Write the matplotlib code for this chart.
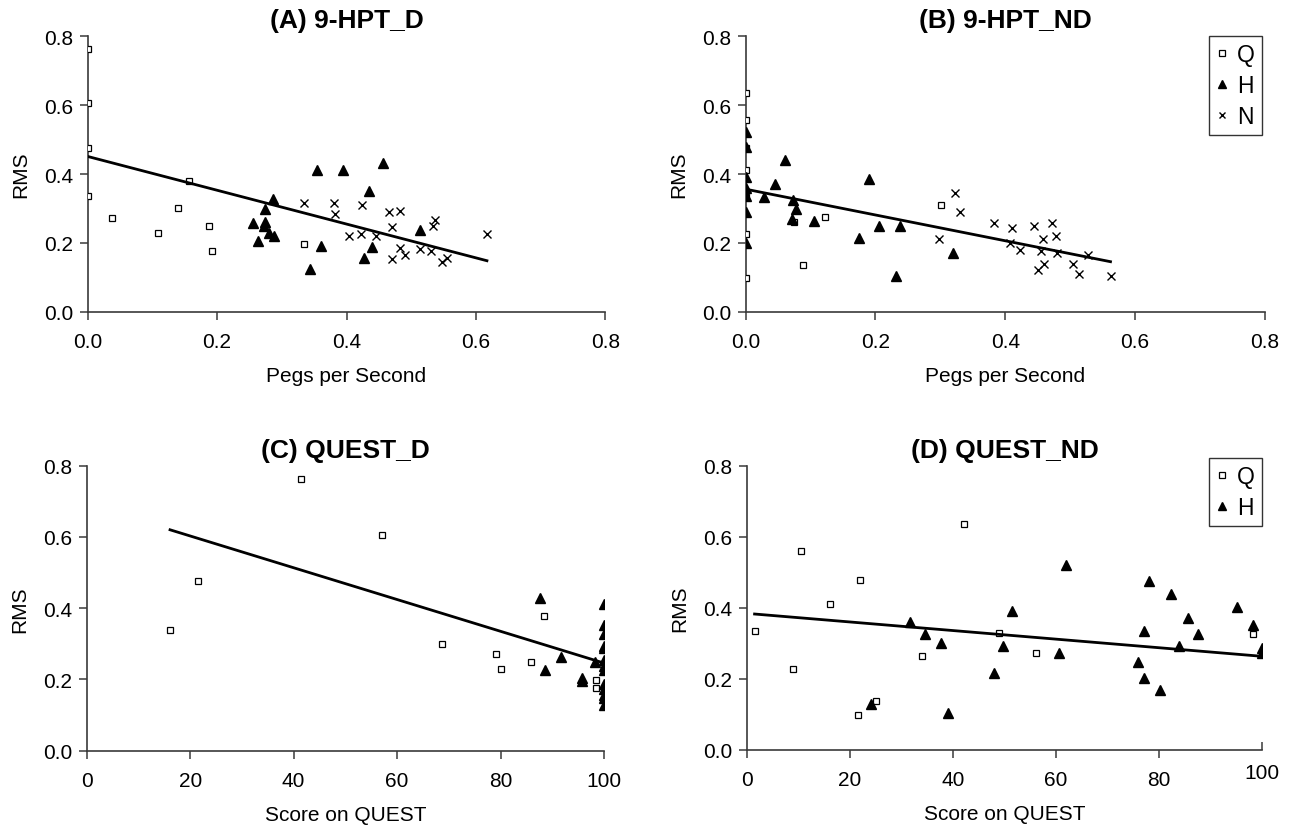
import numpy as np
import matplotlib
matplotlib.use('Agg')
import matplotlib.pyplot as plt
import matplotlib.lines as mlines
import matplotlib.transforms as mtransforms

plt.rcParams['font.family'] = ['Liberation Sans', 'DejaVu Sans']

# (A) 9-HPT_D : pegs per second vs RMS
a_q_x = [0, 0, 0, 0, 0.037, 0.108, 0.139, 0.157, 0.188, 0.192, 0.335]
a_q_y = [0.764, 0.605, 0.476, 0.337, 0.272, 0.228, 0.301, 0.379, 0.250, 0.175, 0.198]
a_h_x = [0.286, 0.274, 0.256, 0.274, 0.272, 0.263, 0.281, 0.288, 0.354, 0.394, 0.457,
         0.434, 0.344, 0.361, 0.427, 0.439, 0.514]
a_h_y = [0.327, 0.298, 0.258, 0.262, 0.250, 0.205, 0.229, 0.221, 0.413, 0.413, 0.432,
         0.350, 0.124, 0.192, 0.157, 0.189, 0.238]
a_n_x = [0.334, 0.380, 0.382, 0.424, 0.465, 0.482, 0.471, 0.404, 0.422, 0.445, 0.470,
         0.482, 0.490, 0.514, 0.531, 0.533, 0.536, 0.556, 0.547, 0.617]
a_n_y = [0.316, 0.316, 0.284, 0.310, 0.291, 0.293, 0.245, 0.219, 0.226, 0.221, 0.153,
         0.185, 0.166, 0.183, 0.177, 0.248, 0.267, 0.157, 0.145, 0.225]
a_fit = (0.451, -0.491)

# (B) 9-HPT_ND
b_q_x = [0, 0, 0, 0, 0, 0, 0, 0.074, 0.089, 0.122, 0.301]
b_q_y = [0.634, 0.558, 0.476, 0.413, 0.334, 0.226, 0.098, 0.262, 0.137, 0.274, 0.310]
b_h_x = [0, 0, 0, 0, 0, 0, 0, 0.029, 0.061, 0.046, 0.073, 0.077, 0.071, 0.106, 0.190,
         0.174, 0.206, 0.238, 0.232, 0.320]
b_h_y = [0.523, 0.477, 0.390, 0.358, 0.335, 0.291, 0.201, 0.334, 0.441, 0.370, 0.324,
         0.298, 0.269, 0.263, 0.385, 0.215, 0.248, 0.250, 0.105, 0.170]
b_n_x = [0.322, 0.330, 0.298, 0.383, 0.410, 0.444, 0.472, 0.478, 0.458, 0.407, 0.422,
         0.455, 0.480, 0.460, 0.451, 0.505, 0.513, 0.528, 0.562]
b_n_y = [0.344, 0.289, 0.211, 0.258, 0.244, 0.250, 0.258, 0.221, 0.211, 0.199, 0.180,
         0.177, 0.170, 0.140, 0.122, 0.138, 0.109, 0.165, 0.103]
b_fit = (0.356, -0.375)

# (C) QUEST_D : score on QUEST vs RMS
c_q_x = [16.1, 21.6, 41.5, 57.1, 68.6, 79.2, 80.0, 85.8, 88.3, 98.4, 98.4]
c_q_y = [0.339, 0.477, 0.763, 0.606, 0.301, 0.272, 0.230, 0.250, 0.378, 0.198, 0.176]
c_h_x = [87.6, 91.6, 88.5, 95.7, 95.7, 98.3, 100, 100, 100, 100, 100, 100, 100, 100,
         100, 100, 100, 100, 100]
c_h_y = [0.430, 0.264, 0.226, 0.204, 0.197, 0.250, 0.411, 0.353, 0.327, 0.295, 0.288,
         0.256, 0.239, 0.228, 0.187, 0.174, 0.157, 0.148, 0.127]
c_fit = (0.692, -0.00446)

# (D) QUEST_ND
d_q_x = [1.5, 8.9, 10.6, 16.1, 21.5, 21.9, 25.1, 33.9, 42.2, 48.9, 56.1, 98.3]
d_q_y = [0.334, 0.228, 0.559, 0.411, 0.099, 0.479, 0.138, 0.263, 0.637, 0.328, 0.273, 0.327]
d_h_x = [24.1, 31.6, 34.5, 37.7, 39.1, 47.9, 49.7, 51.5, 60.5, 62.0, 75.9, 77.0, 77.1,
         78.1, 80.2, 82.3, 83.9, 85.7, 87.5, 95.1, 98.3, 100, 100]
d_h_y = [0.129, 0.361, 0.326, 0.300, 0.104, 0.216, 0.291, 0.390, 0.271, 0.521, 0.246,
         0.203, 0.335, 0.476, 0.169, 0.438, 0.291, 0.370, 0.326, 0.403, 0.352, 0.286, 0.273]
d_fit = (0.384, -0.00121)

AXIS_COL = '#3a3a3a'

fig = plt.figure(figsize=(12.91, 8.29), dpi=100)
axA = fig.add_axes([0.0679, 0.6228, 0.4010, 0.3322])
axB = fig.add_axes([0.5775, 0.6228, 0.4024, 0.3322])
axC = fig.add_axes([0.0672, 0.0932, 0.4007, 0.3438])
axD = fig.add_axes([0.5785, 0.0945, 0.3991, 0.3425])


def scatter_groups(ax, groups):
    for xs, ys, kind, lab in groups:
        if kind == 'Q':
            ax.plot(xs, ys, ls='none', marker='s', ms=4.8, mfc='white', mec='black',
                    mew=0.9, label=lab, zorder=3)
        elif kind == 'H':
            ax.plot(xs, ys, ls='none', marker='^', ms=6.8, color='black',
                    label=lab, zorder=3)
        else:
            ax.plot(xs, ys, ls='none', marker='x', ms=6, color='black', mew=1.0,
                    label=lab, zorder=3)


def trend(ax, fit, xs_all):
    x0, x1 = min(xs_all), max(xs_all)
    xx = np.array([x0, x1])
    ax.plot(xx, fit[0] + fit[1] * xx, color='black', lw=2.0, zorder=4)


def style(ax, title, xlabel, xmax, xticks, xlabels):
    ax.set_xlim(0, xmax)
    ax.set_ylim(0, 0.8)
    ax.set_xticks(xticks, xlabels)
    ax.set_yticks(np.arange(0, 0.81, 0.2), ['0.0', '0.2', '0.4', '0.6', '0.8'])
    for s in ['top', 'right']:
        ax.spines[s].set_visible(False)
    for s in ['left', 'bottom']:
        ax.spines[s].set_color(AXIS_COL)
        ax.spines[s].set_linewidth(1.2)
    ax.tick_params(axis='both', direction='out', length=5.5, width=1.1,
                   color=AXIS_COL, labelsize=15)
    ax.tick_params(axis='x', pad=9)
    ax.tick_params(axis='y', pad=5)
    ax.set_title(title, fontsize=19, fontweight='bold', pad=6.5)
    ax.set_xlabel(xlabel, fontsize=15, labelpad=11)
    ax.set_ylabel('RMS', fontsize=15, labelpad=10)


peg_ticks = [0, 0.2, 0.4, 0.6, 0.8]
peg_labels = ['0.0', '0.2', '0.4', '0.6', '0.8']
quest_ticks = [0, 20, 40, 60, 80, 100]
quest_labels = ['0', '20', '40', '60', '80', '100']

scatter_groups(axA, [(a_q_x, a_q_y, 'Q', 'Q'), (a_h_x, a_h_y, 'H', 'H'),
                     (a_n_x, a_n_y, 'N', 'N')])
trend(axA, a_fit, a_q_x + a_h_x + a_n_x)
style(axA, '(A) 9-HPT_D', 'Pegs per Second', 0.8, peg_ticks, peg_labels)

scatter_groups(axB, [(b_q_x, b_q_y, 'Q', 'Q'), (b_h_x, b_h_y, 'H', 'H'),
                     (b_n_x, b_n_y, 'N', 'N')])
trend(axB, b_fit, b_q_x + b_h_x + b_n_x)
style(axB, '(B) 9-HPT_ND', 'Pegs per Second', 0.8, peg_ticks, peg_labels)

scatter_groups(axC, [(c_q_x, c_q_y, 'Q', 'Q'), (c_h_x, c_h_y, 'H', 'H')])
trend(axC, c_fit, c_q_x + c_h_x)
style(axC, '(C) QUEST_D', 'Score on QUEST', 100, quest_ticks, quest_labels)

scatter_groups(axD, [(d_q_x, d_q_y, 'Q', 'Q'), (d_h_x, d_h_y, 'H', 'H')])
trend(axD, d_fit, d_q_x + d_h_x)
style(axD, '(D) QUEST_ND', 'Score on QUEST', 100, quest_ticks, quest_labels)

# last tick on the D axis points upward and its label sits a little higher
last = axD.xaxis.get_major_ticks()[-1]
last.tick1line.set_marker(mlines.TICKUP)
last.label1.set_transform(last.label1.get_transform() +
                          mtransforms.ScaledTranslation(0, 7 / 100, fig.dpi_scale_trans))

for ax, anchor in [(axB, (0.994, 1.0)), (axD, (1.0, 1.026))]:
    leg = ax.legend(loc='upper right', bbox_to_anchor=anchor, borderaxespad=0,
                    fontsize=16.5, frameon=True, fancybox=False, handlelength=0.6,
                    handletextpad=0.35, borderpad=0.3, labelspacing=0.35,
                    markerscale=0.8)
    leg.get_frame().set_edgecolor('black')
    leg.get_frame().set_linewidth(1.0)

fig.savefig('out.png', dpi=100)
